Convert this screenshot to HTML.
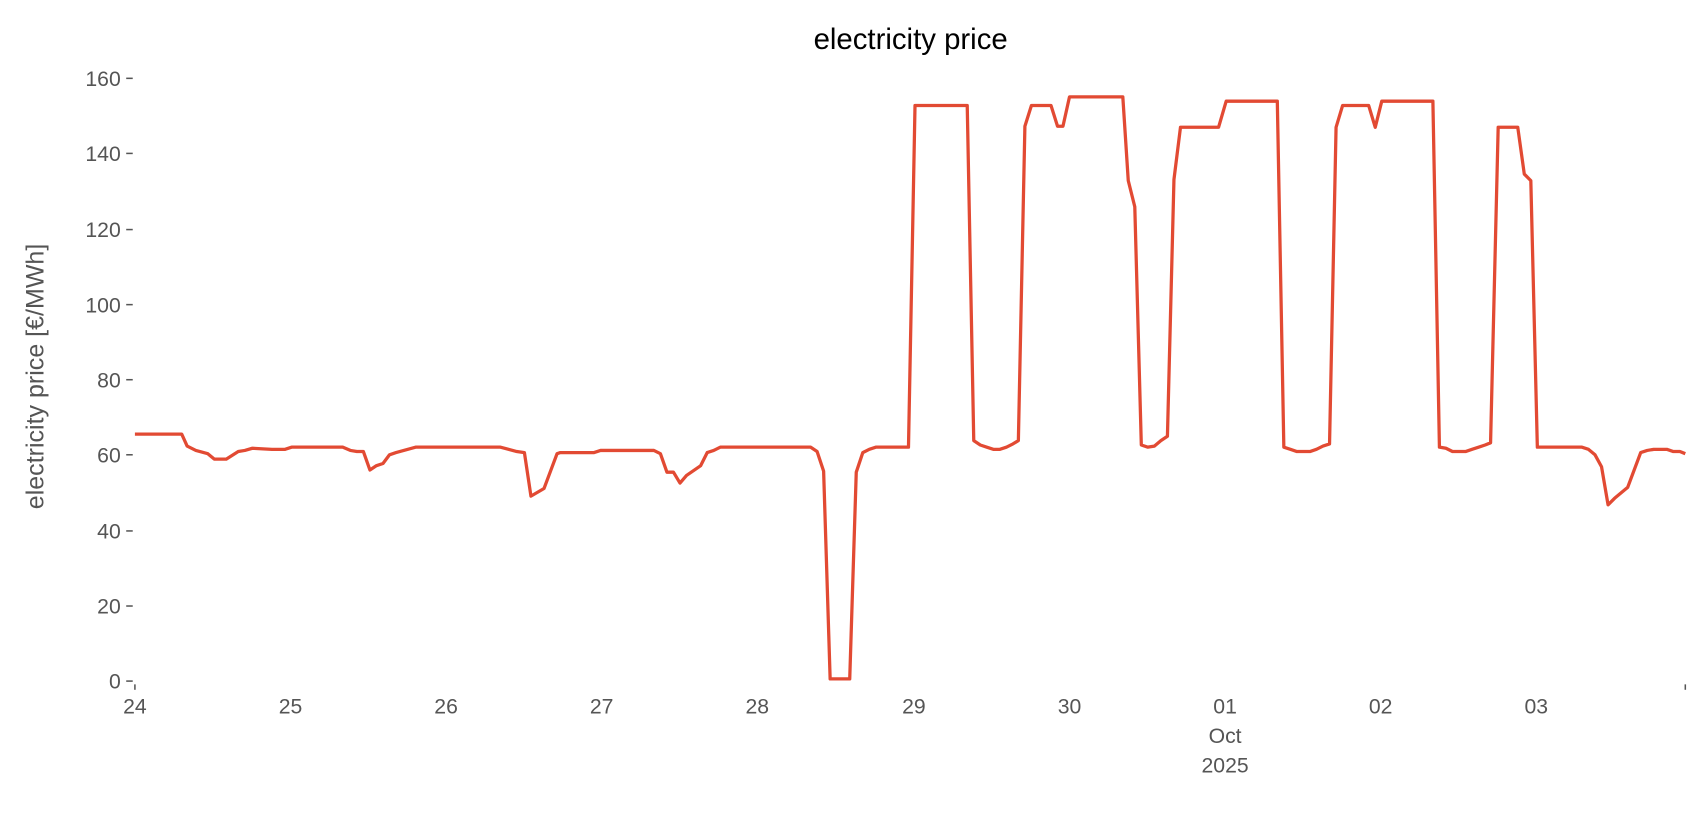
<!DOCTYPE html>
<html><head><meta charset="utf-8"><style>body{margin:0;background:#fff}svg{display:block}text{font-family:"Liberation Sans",sans-serif}</style></head>
<body>
<svg width="1706" height="815" viewBox="0 0 1706 815" xmlns="http://www.w3.org/2000/svg">
<rect width="1706" height="815" fill="#fff"/>
<g transform="scale(1.088)">
<text x="837" y="45" font-size="27" text-anchor="middle" fill="#000">electricity price</text>
<text transform="translate(40,346) rotate(-90)" font-size="23" text-anchor="middle" fill="#555">electricity price [€/MWh]</text>
<g font-size="19.5" fill="#555" text-anchor="end">
<text x="111" y="633">0</text><text x="111" y="564">20</text><text x="111" y="495">40</text><text x="111" y="425">60</text><text x="111" y="356">80</text><text x="111" y="287">100</text><text x="111" y="218">120</text><text x="111" y="148">140</text><text x="111" y="79">160</text>
</g>
<g stroke="#555" stroke-width="1.4">
<line x1="116" y1="626" x2="122" y2="626"/><line x1="116" y1="557" x2="122" y2="557"/><line x1="116" y1="488" x2="122" y2="488"/><line x1="116" y1="418" x2="122" y2="418"/><line x1="116" y1="349" x2="122" y2="349"/><line x1="116" y1="280" x2="122" y2="280"/><line x1="116" y1="211" x2="122" y2="211"/><line x1="116" y1="141" x2="122" y2="141"/><line x1="116" y1="72" x2="122" y2="72"/>
<line x1="124" y1="629" x2="124" y2="634"/><line x1="1549" y1="629" x2="1549" y2="634"/>
</g>
<g font-size="19.5" fill="#555" text-anchor="middle">
<text x="124" y="656">24</text><text x="267" y="656">25</text><text x="410" y="656">26</text><text x="553" y="656">27</text><text x="696" y="656">28</text><text x="840" y="656">29</text><text x="983" y="656">30</text><text x="1126" y="656">01</text><text x="1126" y="683">Oct</text><text x="1126" y="710">2025</text><text x="1269" y="656">02</text><text x="1412" y="656">03</text>
</g>
<polyline fill="none" stroke="#E24A33" stroke-width="3" stroke-linejoin="round" points="124,399 167,399 172,410 180,414 191,417 197,422 208,422 219,415 225,414 232,412 250,413 262,413 268,411 315,411 322,414 328,415 334,415 340,432 346,428 352,426 358,418 364,416 382,411 460,411 475,415 482,416 488,456 500,449 512,417 515,416 546,416 552,414 601,414 607,417 613,434 619,434 625,444 631,437 644,428 650,416 656,414 662,411 745,411 751,415 757,433 763,624 781,624 787,434 793,416 799,413 805,411 835,411 841,97 889,97 895,405 901,409 907,411 913,413 919,413 925,411 931,408 936,405 942,116 948,97 966,97 972,116 977,116 983,89 1032,89 1037,166 1043,190 1049,409 1055,411 1061,410 1067,405 1073,401 1079,165 1085,117 1120,117 1127,93 1174,93 1180,411 1186,413 1192,415 1204,415 1210,413 1216,410 1222,408 1228,117 1234,97 1258,97 1264,117 1270,93 1317,93 1323,411 1329,412 1335,415 1347,415 1353,413 1359,411 1365,409 1370,407 1377,117 1395,117 1401,160 1407,166 1413,411 1454,411 1460,413 1466,418 1472,429 1478,464 1484,458 1496,448 1508,416 1514,414 1520,413 1532,413 1538,415 1544,415 1549,417"/>
</g>
</svg>
</body></html>
